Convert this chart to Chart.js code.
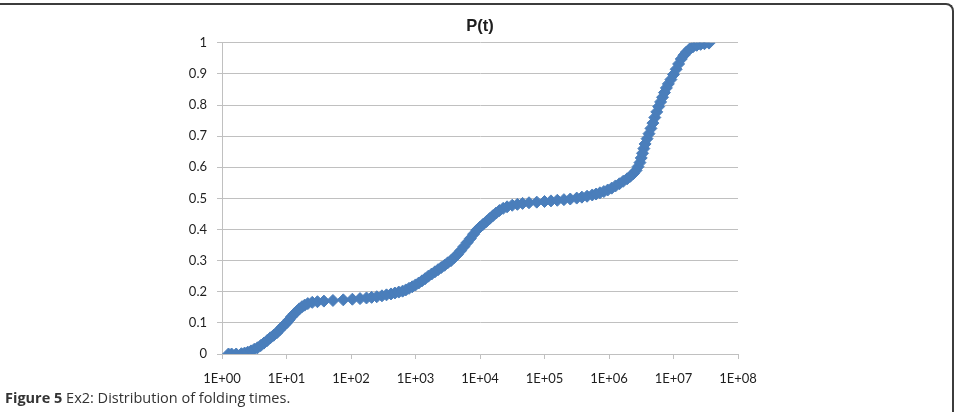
<!DOCTYPE html>
<html>
<head>
<meta charset="utf-8">
<script src="https://cdn.jsdelivr.net/npm/chart.js@4.4.1/dist/chart.umd.min.js"></script>
<style>
  html, body { margin: 0; padding: 0; background: #fff; }
  #wrap { position: relative; width: 955px; height: 412px; overflow: hidden; }
  #frame {
    position: absolute; left: -20px; top: 3px; width: 974px; height: 500px;
    box-sizing: border-box;
    border-top: 2px solid #3c3c3c; border-right: 2px solid #3c3c3c;
    border-top-right-radius: 8px;
  }
  #chart { position: absolute; left: 0; top: 0; }
  #caption {
    position: absolute; left: 5px; top: 388px;
    font-family: "Open Sans", "Noto Sans", sans-serif; font-size: 14.5px; color: #333;
    white-space: nowrap;
  }
  #caption b { font-weight: 700; }
</style>
</head>
<body>
<div id="wrap">
  <div id="frame"></div>
  <canvas id="chart" width="955" height="412"></canvas>
  <div id="caption"><b>Figure 5</b> Ex2: Distribution of folding times.</div>
</div>
<script>
// folding time t (log axis) and cumulative probability P(t)
const times = [
  1.26, 1.41, 1.66, 2.0, 2.24, 2.51, 2.82, 3.16, 3.55, 3.98,
  4.47, 5.01, 5.62, 6.31, 7.08, 7.76, 8.51, 9.33, 10.0, 11.0,
  12.0, 13.2, 14.5, 15.8, 17.4, 19.1, 21.4, 25.1, 30.2, 38.0,
  52.5, 75.9, 105, 138, 174, 209, 251, 302, 355, 417,
  479, 550, 631, 708, 794, 891, 1000, 1120, 1260, 1410,
  1580, 1780, 2000, 2240, 2510, 2820, 3160, 3550, 3980, 4470,
  5010, 5620, 6310, 7080, 7940, 8910, 10000, 11200, 12600, 14100,
  15800, 17800, 20000, 22900, 26300, 31600, 38000, 45700, 57500, 75900,
  1.0e5, 1.26e5, 1.58e5, 2.0e5, 2.51e5, 3.16e5, 3.8e5, 4.57e5, 5.5e5, 6.31e5,
  7.24e5, 8.32e5, 9.55e5, 1.10e6, 1.26e6, 1.45e6, 1.66e6, 1.91e6, 2.14e6, 2.40e6,
  2.63e6, 2.82e6, 3.02e6, 3.16e6, 3.31e6, 3.47e6, 3.63e6, 3.89e6, 4.17e6, 4.47e6,
  4.79e6, 5.13e6, 5.50e6, 5.89e6, 6.31e6, 6.76e6, 7.24e6, 7.76e6, 8.32e6, 9.12e6,
  1.00e7, 1.10e7, 1.20e7, 1.32e7, 1.45e7, 1.58e7, 1.78e7, 2.00e7, 2.29e7, 2.63e7,
  3.02e7, 3.55e7
];
const probs = [
  0.000, 0.000, 0.000, 0.001, 0.003, 0.006, 0.010, 0.015, 0.020, 0.027,
  0.035, 0.043, 0.052, 0.060, 0.068, 0.077, 0.086, 0.094, 0.100, 0.110,
  0.120, 0.129, 0.137, 0.145, 0.152, 0.157, 0.162, 0.166, 0.168, 0.170,
  0.172, 0.174, 0.176, 0.178, 0.180, 0.182, 0.184, 0.187, 0.190, 0.193,
  0.196, 0.199, 0.202, 0.206, 0.211, 0.216, 0.222, 0.228, 0.235, 0.242,
  0.250, 0.257, 0.264, 0.271, 0.278, 0.285, 0.293, 0.300, 0.310, 0.320,
  0.332, 0.345, 0.358, 0.371, 0.385, 0.398, 0.408, 0.417, 0.426, 0.435,
  0.444, 0.453, 0.461, 0.468, 0.473, 0.478, 0.481, 0.484, 0.486, 0.488,
  0.490, 0.492, 0.494, 0.496, 0.498, 0.501, 0.504, 0.507, 0.511, 0.514,
  0.518, 0.522, 0.527, 0.533, 0.540, 0.547, 0.555, 0.563, 0.571, 0.580,
  0.590, 0.602, 0.615, 0.630, 0.645, 0.660, 0.675, 0.692, 0.708, 0.725,
  0.742, 0.760, 0.778, 0.795, 0.810, 0.825, 0.840, 0.855, 0.868, 0.882,
  0.898, 0.915, 0.932, 0.948, 0.960, 0.970, 0.980, 0.987, 0.992, 0.995,
  0.997, 0.999
];

const xTickValues = [1, 1e1, 1e2, 1e3, 1e4, 1e5, 1e6, 1e7, 1e8];
const xTickLabels = ["1E+00", "1E+01", "1E+02", "1E+03", "1E+04", "1E+05", "1E+06", "1E+07", "1E+08"];
const yTickLabels = ["0", "0.1", "0.2", "0.3", "0.4", "0.5", "0.6", "0.7", "0.8", "0.9", "1"];

const gridGray = "#c0c0c0";
const textCol = "#1e1e1e";
const tickFont = { family: "Lato, 'Liberation Sans', sans-serif", size: 13 };

var points = [];
times.forEach((t, i) => {
  points.push({ x: t, y: probs[i] });
});

new Chart(document.getElementById("chart"), {
  type: "scatter",
  data: {
    datasets: [
      {
        label: "P(t)",
        data: points,
        pointStyle: "rectRot",
        pointRadius: 6,
        pointHoverRadius: 6,
        backgroundColor: "#4a7ebb",
        borderColor: "#4a7ebb",
        borderWidth: 1,
        showLine: false,
      },
    ],
  },
  options: {
    responsive: false,
    animation: false,
    layout: {
      padding: { left: 0, right: 217, top: 0, bottom: 18 },
    },
    plugins: {
      legend: { display: false },
      tooltip: { enabled: false },
      title: {
        display: true,
        fullSize: false,
        text: "P(t)",
        color: textCol,
        font: { family: "'Liberation Sans', Arial, sans-serif", size: 16.5, weight: "bold" },
        padding: { top: 17, bottom: 6 },
      },
    },
    scales: {
      x: {
        type: "logarithmic",
        min: 1,
        max: 1e8,
        afterBuildTicks: (scale) => {
          scale.ticks = xTickValues.map((v) => ({ value: v }));
        },
        afterFit: (scale) => {
          scale.height = 40;
        },
        ticks: {
          autoSkip: false,
          maxRotation: 0,
          color: textCol,
          font: tickFont,
          padding: 12,
          callback: (v, i) => xTickLabels[i],
        },
        grid: {
          drawOnChartArea: false,
          drawTicks: true,
          tickLength: 5,
          color: gridGray,
        },
        border: { display: true, color: gridGray, width: 1 },
      },
      y: {
        min: 0,
        max: 1,
        afterFit: (scale) => {
          scale.width = 222;
        },
        ticks: {
          stepSize: 0.1,
          color: textCol,
          font: tickFont,
          padding: 10,
          callback: (v, i) => yTickLabels[i],
        },
        grid: {
          color: gridGray,
          lineWidth: 1,
          drawTicks: true,
          tickLength: 5,
        },
        border: { display: true, color: gridGray, width: 1 },
      },
    },
  },
});
</script>
</body>
</html>
